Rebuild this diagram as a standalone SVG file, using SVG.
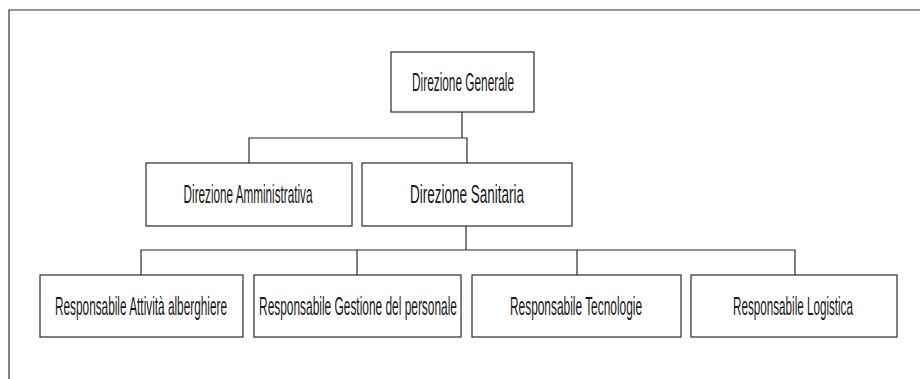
<svg xmlns="http://www.w3.org/2000/svg" width="920" height="379" viewBox="0 0 920 379">
<style>
.box{fill:#fff;stroke:#2a2a2a;stroke-width:1.2}
.frame{fill:none;stroke:#333;stroke-width:1.2}
.con{fill:none;stroke:#2a2a2a;stroke-width:1.2}
.t{font-family:"Liberation Sans",Arial,sans-serif;font-size:25px;fill:#1a1a1a;text-anchor:middle}
</style>
<rect width="920" height="379" fill="#fff"/>
<path class="frame" d="M9,379 V10 H921"/>
<g id="connectors">
<path class="con" d="M462,112 V138 M249,163 V138 H467 V163"/>
<path class="con" d="M466,226 V250 M141,275 V250 H795 V275 M357,250 V275 M577,250 V275"/>
</g>
<g id="direzione-generale">
<rect class="box" x="391" y="52" width="143" height="60"/>
<text class="t" transform="translate(463,91) scale(0.47,1)" textLength="217" lengthAdjust="spacingAndGlyphs">Direzione Generale</text>
</g>
<g id="direzione-amministrativa">
<rect class="box" x="146" y="163" width="206" height="63"/>
<text class="t" transform="translate(248,203) scale(0.47,1)" textLength="274" lengthAdjust="spacingAndGlyphs">Direzione Amministrativa</text>
</g>
<g id="direzione-sanitaria">
<rect class="box" x="362" y="163" width="210" height="63"/>
<text class="t" transform="translate(467,203) scale(0.47,1)" textLength="243" lengthAdjust="spacingAndGlyphs">Direzione  Sanitaria</text>
</g>
<g id="resp-attivita">
<rect class="box" x="40" y="275" width="203" height="62"/>
<text class="t" transform="translate(141,315) scale(0.47,1)" textLength="366" lengthAdjust="spacingAndGlyphs">Responsabile Attività  alberghiere</text>
</g>
<g id="resp-personale">
<rect class="box" x="254" y="275" width="207" height="62"/>
<text class="t" transform="translate(358,315) scale(0.47,1)" textLength="421" lengthAdjust="spacingAndGlyphs">Responsabile Gestione del personale</text>
</g>
<g id="resp-tecnologie">
<rect class="box" x="472" y="275" width="209" height="62"/>
<text class="t" transform="translate(576,315) scale(0.47,1)" textLength="281" lengthAdjust="spacingAndGlyphs">Responsabile Tecnologie</text>
</g>
<g id="resp-logistica">
<rect class="box" x="691" y="275" width="206" height="62"/>
<text class="t" transform="translate(793,315) scale(0.47,1)" textLength="255" lengthAdjust="spacingAndGlyphs">Responsabile Logistica</text>
</g>
</svg>
